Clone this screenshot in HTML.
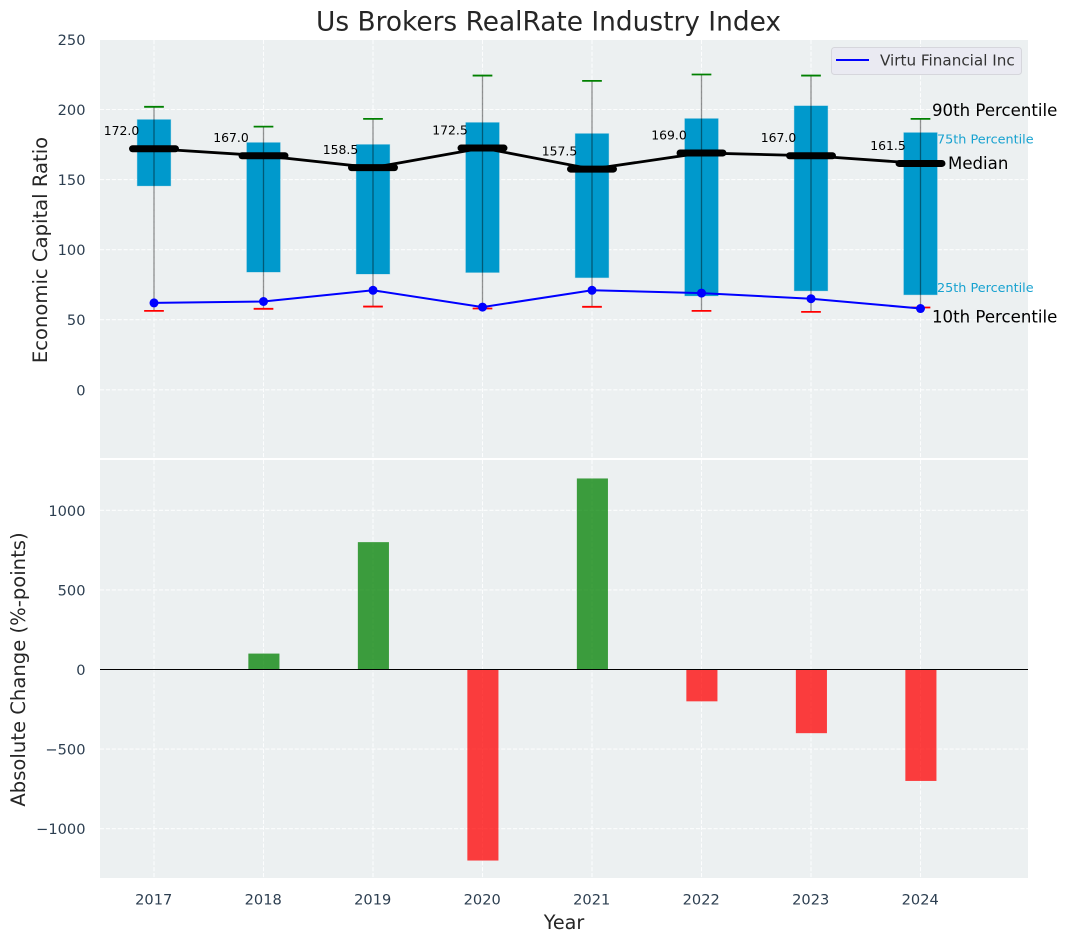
<!DOCTYPE html>
<html lang="en">
<head>
<meta charset="utf-8">
<title>Us Brokers RealRate Industry Index</title>
<style>
html,body{margin:0;padding:0;background:#fff;}
svg{display:block;font-family:"DejaVu Sans","Liberation Sans",sans-serif;}
</style>
</head>
<body>
<svg id="chart" xmlns="http://www.w3.org/2000/svg" width="1067" height="942" viewBox="0 0 1067 942">
  <rect width="1067" height="942" fill="#ffffff"/>
  <rect x="100" y="40" width="928" height="418" fill="#ecf0f1"/>
  <rect x="100" y="460" width="928" height="418" fill="#ecf0f1"/>
  <g id="grid"></g>
  <g id="boxes"></g>
  <g id="whiskers"></g>
  <g id="medians"></g>
  <g id="company"></g>
  <g id="bars"></g>
  <g id="ticks"></g>
  <g id="annotations"></g>
  <text x="548.5" y="30.5" text-anchor="middle" font-size="26.4" fill="#262626">Us Brokers RealRate Industry Index</text>
  <text transform="translate(47,250) rotate(-90)" text-anchor="middle" font-size="19.6" fill="#262626">Economic Capital Ratio</text>
  <text transform="translate(25,669.5) rotate(-90)" text-anchor="middle" font-size="19.6" fill="#262626">Absolute Change (%-points)</text>
  <text x="564" y="929" text-anchor="middle" font-size="19.2" fill="#262626">Year</text>
  <g>
    <rect x="831.5" y="47.5" width="190" height="27" rx="3" fill="#eaeaf2" stroke="#d6d6dc" stroke-width="1"/>
    <line x1="836" y1="60" x2="869" y2="60" stroke="#0000ff" stroke-width="2"/>
    <text x="880" y="65.5" font-size="15.2" fill="#333333">Virtu Financial Inc</text>
  </g>
</svg>
<script>
const years = [2017, 2018, 2019, 2020, 2021, 2022, 2023, 2024];
const p90 = [201.9, 187.8, 193.3, 224.2, 220.4, 225, 224.2, 193.3];
const p75 = [192.8, 176.4, 175, 190.7, 182.8, 193.5, 202.6, 183.5];
const median = [172, 167, 158.5, 172.5, 157.5, 169, 167, 161.5];
const p25 = [145.5, 84, 82.6, 83.7, 80, 67, 70.6, 67.8];
const p10 = [56.3, 57.8, 59.4, 58, 59.2, 56.3, 55.6, 58.7];
const virtu = [62, 63, 71, 59, 71, 69, 65, 58];
const absChange = [null, 100, 800, -1200, 1200, -200, -400, -700];
const topTicks = [250, 200, 150, 100, 50, 0];
const bottomTicks = [1000, 500, 0, -500, -1000];

const SVGNS = 'http://www.w3.org/2000/svg';
const xScale = function (year) { return 154 + (year - 2017) * 109.5; };
const yTop = function (v) { return 389.8 - v * 1.4015; };
const yBottom = function (v) { return 669.5 - v * 0.1592; };
const BOX_HALF = 0.153, BAR_HALF = 0.142, MEDIAN_HALF = 0.196, CAP_HALF = 0.09;
const UNIT = 109.5;

function mk(parentId, tag, attrs, text) {
  const el = document.createElementNS(SVGNS, tag);
  for (const k in attrs) el.setAttribute(k, attrs[k]);
  if (text !== undefined) el.textContent = text;
  document.getElementById(parentId).appendChild(el);
  return el;
}
function fmtTick(v) { return v < 0 ? '\u2212' + Math.abs(v) : String(v); }
const gridStyle = { stroke: '#ffffff', 'stroke-width': 1.1, 'stroke-dasharray': '4.1 1.8', 'stroke-opacity': 0.85 };

// Grid and tick labels
topTicks.forEach(function (t) {
  const line = mk('grid', 'line', Object.assign({ x1: 100, x2: 1028, y1: yTop(t), y2: yTop(t) }, gridStyle));
  
  
  const label = mk('ticks', 'text', { x: 85.5, y: yTop(t) + 5.5, 'text-anchor': 'end', 'font-size': 14.6, fill: '#2c3e50' }, fmtTick(t));
  
  
});
bottomTicks.forEach(function (t) {
  const line = mk('grid', 'line', Object.assign({ x1: 100, x2: 1028, y1: yBottom(t), y2: yBottom(t) }, gridStyle));
  
  
  const label = mk('ticks', 'text', { x: 85.5, y: yBottom(t) + 5.5, 'text-anchor': 'end', 'font-size': 14.6, fill: '#2c3e50' }, fmtTick(t));
  
  
});
years.forEach(function (yr) {
  const upper = mk('grid', 'line', Object.assign({ x1: xScale(yr), x2: xScale(yr), y1: 40, y2: 458 }, gridStyle));
  
  
  const lower = mk('grid', 'line', Object.assign({ x1: xScale(yr), x2: xScale(yr), y1: 460, y2: 878 }, gridStyle));
  
  
  const label = mk('ticks', 'text', { x: xScale(yr) - 0.3, y: 904.5, 'text-anchor': 'middle', 'font-size': 14.6, fill: '#2c3e50' }, String(yr));
  
  
});

// Boxes, whiskers and caps
years.forEach(function (yr, i) {
  const cx = xScale(yr);
  const box = mk('boxes', 'rect', {
    x: cx - BOX_HALF * UNIT, width: 2 * BOX_HALF * UNIT,
    y: yTop(p75[i]), height: yTop(p25[i]) - yTop(p75[i]),
    fill: '#0099cc', stroke: '#0099cc', 'stroke-opacity': 0.2, 'stroke-width': 1
  });
  
  

  const whisker = mk('whiskers', 'line', {
    x1: cx, x2: cx, y1: yTop(p90[i]), y2: yTop(p10[i]),
    stroke: '#000000', 'stroke-opacity': 0.42, 'stroke-width': 1.3
  });
  
  

  const capHigh = mk('whiskers', 'line', {
    x1: cx - CAP_HALF * UNIT, x2: cx + CAP_HALF * UNIT, y1: yTop(p90[i]), y2: yTop(p90[i]),
    stroke: '#008000', 'stroke-width': 1.8
  });
  
  

  const capLow = mk('whiskers', 'line', {
    x1: cx - CAP_HALF * UNIT, x2: cx + CAP_HALF * UNIT, y1: yTop(p10[i]), y2: yTop(p10[i]),
    stroke: '#ff0000', 'stroke-width': 1.8
  });
  
  
});

// Median line, thick median marks and value labels
const medianPath = mk('medians', 'polyline', {
  points: years.map(function (yr, i) { return xScale(yr) + ',' + yTop(median[i]); }).join(' '),
  fill: 'none', stroke: '#000000', 'stroke-width': 2.8
});


years.forEach(function (yr, i) {
  const cx = xScale(yr);
  const mark = mk('medians', 'line', {
    x1: cx - MEDIAN_HALF * UNIT, x2: cx + MEDIAN_HALF * UNIT, y1: yTop(median[i]), y2: yTop(median[i]),
    stroke: '#000000', 'stroke-width': 7, 'stroke-linecap': 'round'
  });
  
  
  const label = mk('medians', 'text', {
    x: cx - 32.5, y: yTop(median[i]) - 13.5, 'text-anchor': 'middle', 'font-size': 12.4, fill: '#000000'
  }, median[i].toFixed(1));
  
  
});

// Company series
const companyLine = mk('company', 'polyline', {
  points: years.map(function (yr, i) { return xScale(yr) + ',' + yTop(virtu[i]); }).join(' '),
  fill: 'none', stroke: '#0000ff', 'stroke-width': 2
});


years.forEach(function (yr, i) {
  const dot = mk('company', 'circle', { cx: xScale(yr), cy: yTop(virtu[i]), r: 4.5, fill: '#0000ff' });
  
  
});

// Change bars
years.forEach(function (yr, i) {
  const v = absChange[i];
  if (v === null) return;
  const top = Math.min(yBottom(v), yBottom(0));
  const bar = mk('bars', 'rect', {
    x: xScale(yr) + 0.4 - BAR_HALF * UNIT, width: 2 * BAR_HALF * UNIT,
    y: top, height: Math.abs(yBottom(v) - yBottom(0)),
    fill: v >= 0 ? '#008000' : '#ff0000', 'fill-opacity': 0.75
  });
  
  
});
const zeroLine = mk('bars', 'line', { x1: 100, x2: 1028, y1: yBottom(0), y2: yBottom(0), stroke: '#000000', 'stroke-width': 1.1 });



// Percentile annotations, anchored to the last year
const last = years.length - 1;
const lastX = xScale(years[last]);
const note90 = mk('annotations', 'text', { x: lastX + 11.5, y: yTop(p90[last]) - 3, 'font-size': 16.6, fill: '#000000' }, '90th Percentile');


const note75 = mk('annotations', 'text', { x: lastX + 16.5, y: yTop(p75[last]) + 10.8, 'font-size': 12.8, fill: '#0099cc', 'fill-opacity': 0.9 }, '75th Percentile');


const noteMedian = mk('annotations', 'text', { x: lastX + 27.5, y: yTop(median[last]) + 5.5, 'font-size': 16.6, fill: '#000000' }, 'Median');


const note25 = mk('annotations', 'text', { x: lastX + 16.5, y: yTop(p25[last]) - 2.8, 'font-size': 12.8, fill: '#0099cc', 'fill-opacity': 0.9 }, '25th Percentile');


const note10 = mk('annotations', 'text', { x: lastX + 11.5, y: yTop(p10[last]) + 15, 'font-size': 16.6, fill: '#000000' }, '10th Percentile');


</script>
</body>
</html>
